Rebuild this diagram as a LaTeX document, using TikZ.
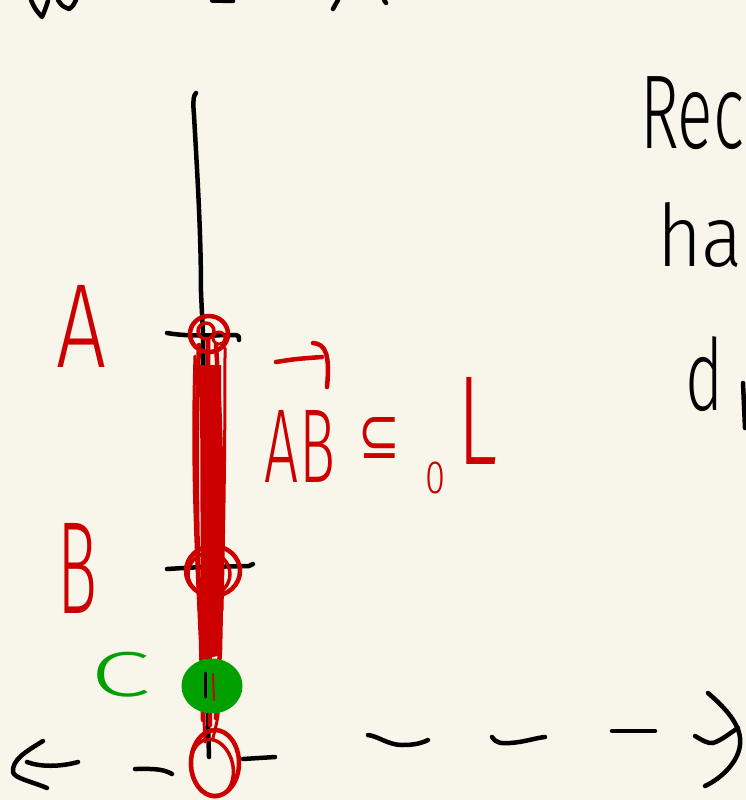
\documentclass[tikz,border=0pt]{standalone}
\usepackage{fontspec}
\usepackage{graphicx}
\newfontfamily\hand{Fira Sans Light}
\newfontfamily\sym{DejaVu Sans}
\definecolor{paper}{HTML}{F8F6EA}
\definecolor{penred}{HTML}{CC0000}
\definecolor{pengreen}{HTML}{00A000}
\tikzset{
  ink/.style={line width=4.5pt, draw=black, line cap=round, line join=round},
  redink/.style={line width=4.5pt, draw=penred, line cap=round, line join=round},
  greenink/.style={line width=4.5pt, draw=pengreen, line cap=round, line join=round},
  lbl/.style={inner sep=0pt, outer sep=0pt}
}
\begin{document}
\begin{tikzpicture}[x=1pt,y=-1pt]
\useasboundingbox (0,0) rectangle (746,800);
\fill[paper] (0,0) rectangle (746,800);
\clip (0,0) rectangle (746,800);

% cut-off strokes at the top edge
\draw[ink] (31,0) .. controls (35,9) .. (42,17) .. controls (45,10) .. (48,1);
\draw[ink] (58,0) .. controls (62,6) .. (69,9) .. controls (73,6) .. (76,0);
\draw[ink] (212,0.5) -- (233,1);
\draw[ink] (333,9) -- (338,0);
\draw[ink] (384,0) -- (386,3);

% named points on the vertical line
\coordinate (vtop) at (196,93);
\coordinate (pA) at (203,334);
\coordinate (pB) at (206,568);
\coordinate (pC) at (207,687);
\coordinate (pO) at (209,757);

% black vertical line
\draw[ink] (vtop) .. controls (193,95) and (193,105) .. (194,115)
  .. controls (197,170) and (201,230) .. (201,293) -- (pA) -- (pB) -- (pC) -- (pO);

% tick marks
\coordinate (tAl) at (167,333);
\coordinate (tAr) at (239,340);
\draw[ink] (tAl) .. controls (190,337) and (215,335) .. (236,335) .. controls (239,336) .. (tAr);
\coordinate (tBl) at (167,569);
\coordinate (tBr) at (253,564);
\draw[ink] (tBl) .. controls (200,567) .. (249,566) -- (tBr);
\coordinate (tOl) at (243,759);
\coordinate (tOr) at (275,757);
\draw[ink] (tOl) -- (tOr);

% dashed horizontal axis with hand-drawn ends
\coordinate (lh1) at (43,741);
\coordinate (lh2) at (13,772);
\coordinate (lh3) at (47,788);
\draw[ink] (lh1) .. controls (25,752) and (12,760) .. (lh2) .. controls (14,778) and (30,781) .. (lh3);
\draw[ink] (27,762) .. controls (40,767) and (60,767) .. (78,762);
\draw[ink] (135,769) .. controls (150,769) and (162,768) .. (172,774);
\draw[ink] (368,735) .. controls (378,736) and (388,745) .. (402,745) .. controls (412,745) and (420,744) .. (428,740);
\draw[ink] (492,737) .. controls (495,742) and (500,744) .. (510,743) .. controls (525,742) and (535,738) .. (545,737);
\draw[ink] (612,731) -- (655,731);
\coordinate (rh1) at (695,736);
\coordinate (rh2) at (738,728);
\draw[ink] (rh1) .. controls (702,740) and (708,744) .. (713,743) .. controls (722,740) and (730,733) .. (rh2);
\draw[ink] (708,693) .. controls (730,712) and (742,728) .. (740,745) .. controls (738,762) and (722,778) .. (705,786);

% red thick segment AB (many strokes)
\fill[penred] (200,365) -- (221,365) -- (221,655) -- (201,660) -- cycle;
\draw[redink] (199,345) .. controls (195,450) and (197,560) .. (201,640) -- (203,720);
\draw[redink] (216,345) .. controls (223,450) and (222,560) .. (220,650) -- (216,718);
\draw[redink] (208,340) -- (210,725);
\draw[redink, line width=3pt] (195,356) .. controls (192,450) and (195,530) .. (199,610);
\draw[redink, line width=3pt] (225,348) .. controls (225,450) and (224,520) .. (222,610);
\draw[redink, line width=3pt] (203,700) -- (205,742);
\draw[redink, line width=3pt] (219,700) .. controls (218,718) .. (213,738);

% loops around A, B and the bottom point
\draw[redink] (209,334) ellipse [x radius=19, y radius=18];
\draw[redink, line width=3.5pt] (206,331) circle [radius=8];
\draw[redink, line width=3pt] (219,338) circle [radius=6];
\draw[redink] (213,571) ellipse [x radius=27, y radius=25];
\draw[redink, line width=3.5pt] (209,574) ellipse [x radius=21, y radius=21];
\draw[redink] (215,763) ellipse [x radius=24, y radius=33];
\draw[redink, line width=3.5pt] (212,768) [rotate around={12:(212,768)}] ellipse [x radius=21, y radius=29];

% green point C
\fill[pengreen] (212,687) ellipse [x radius=29, y radius=26];
\draw[greenink, line width=3pt] (212,686) ellipse [x radius=29, y radius=26];
\draw[redink, line width=2pt] (213,674) -- (214,700);
\draw[ink, line width=3pt] (205,673) -- (205,697);

% labels
\node[lbl, text=penred] (A) at (82,326) {\resizebox*{50pt}{82pt}{\hand A}};
\node[lbl, text=penred] (B) at (78,568) {\resizebox*{40pt}{90pt}{\hand B}};
\node[lbl, text=pengreen] (C) at (120,675) {\resizebox*{60pt}{45pt}{\hand C}};

% AB subseteq_0 L
\node[lbl, text=penred] (AB) at (300,446) {\resizebox*{70pt}{72pt}{\hand AB}};
\draw[redink] (276,362) .. controls (295,359) .. (322,357);
\draw[redink] (313,343) .. controls (326,344) and (330,355) .. (327,387);
\node[lbl, text=penred] (sub) at (379,438) {\resizebox*{42pt}{41pt}{\sym ⊆}};
\node[lbl, text=penred] (zero) at (435,478) {\resizebox*{20pt}{32pt}{\hand 0}};
\node[lbl, text=penred] (L) at (477,421) {\resizebox*{40pt}{87pt}{\hand L}};

% words on the right, reaching the edge
\node[lbl, anchor=north west] (rec) at (640,77) {\resizebox*{104pt}{73pt}{\hand Rec}};
\node[lbl, anchor=north west] (ha) at (657,202) {\resizebox*{86pt}{65pt}{\hand ha}};
\node[lbl, anchor=north west] (d) at (685,337) {\resizebox*{38pt}{75pt}{\hand d}};
\draw[ink] (743,383) -- (745,428);
\end{tikzpicture}
\end{document}
